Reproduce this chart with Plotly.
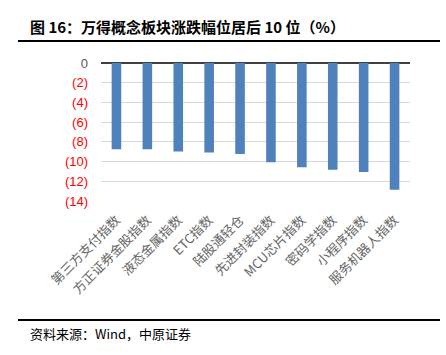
import plotly.graph_objects as go

categories = ["第三方支付指数", "方正证券金股指数", "液态金属指数", "ETC指数", "陆股通轻仓",
              "先进封装指数", "MCU芯片指数", "密码学指数", "小程序指数", "服务机器人指数"]
values = [-8.75, -8.75, -8.99, -9.09, -9.22, -10.06, -10.57, -10.84, -11.07, -12.86]
tick_vals = [0, -2, -4, -6, -8, -10, -12, -14]
tick_text = ["<span style='color:#595959'>0</span>"] + \
    ["<span style='color:#ff0000'>(%d)</span>" % abs(v) for v in tick_vals[1:]]

fig = go.Figure()
fig.add_trace(go.Bar(x=categories, y=values, marker=dict(color="#4f81bd", line=dict(width=0)),
                     width=0.31))

fig.update_layout(
    width=446, height=355,
    margin=dict(l=101, r=36, t=63, b=154),
    plot_bgcolor="white", paper_bgcolor="white",
    showlegend=False,
    font=dict(family="Noto Sans CJK SC", color="#595959"),
    xaxis=dict(tickangle=-45, tickfont=dict(size=13, color="#666666", family="Noto Sans CJK SC"),
               showgrid=False, showline=False, ticks="", zeroline=False, ticklabelstandoff=8),
    yaxis=dict(range=[-14, 0], tickvals=tick_vals, ticktext=tick_text,
               tickfont=dict(size=13, family="Liberation Sans"),
               showgrid=True, gridcolor="#d9d9d9", gridwidth=1,
               zeroline=True, zerolinecolor="#404040", zerolinewidth=1.5,
               ticks="", ticklabelstandoff=12, showline=False),
)

fig.add_annotation(text="<b>图 16：万得概念板块涨跌幅位居后 10 位（%）</b>", xref="paper", yref="paper",
                   x=-(101 - 28) / 309, y=1 + (63 - 27) / 138, xanchor="left", yanchor="middle",
                   showarrow=False, font=dict(size=15, color="#000000", family="Noto Sans CJK SC"))
fig.add_annotation(text="资料来源：Wind，中原证券", xref="paper", yref="paper",
                   x=-(101 - 28) / 309, y=-(333 - 201) / 138, xanchor="left", yanchor="middle",
                   showarrow=False, font=dict(size=13, color="#000000", family="Noto Sans CJK SC"))
fig.add_shape(type="line", xref="paper", yref="paper",
              x0=-(101 - 18) / 309, x1=(440 - 101) / 309, y0=1 + (63 - 41) / 138, y1=1 + (63 - 41) / 138,
              line=dict(color="#000000", width=2))
fig.add_shape(type="line", xref="paper", yref="paper",
              x0=-(101 - 18) / 309, x1=(440 - 101) / 309, y0=-(320 - 201) / 138, y1=-(320 - 201) / 138,
              line=dict(color="#000000", width=2))

fig.write_html("out.html", config={"displayModeBar": False},
               post_script="document.body.style.margin='0px';document.body.style.overflow='hidden';")
